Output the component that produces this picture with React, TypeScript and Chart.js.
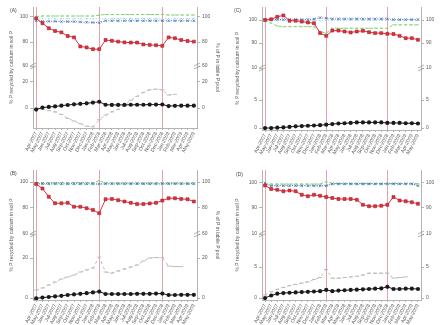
import React, { useEffect, useRef } from "react";
import { Chart, registerables } from "chart.js";
Chart.register(...registerables);

// ---------- data ----------
const categories = [
  "Apr-2007", "May-2007", "Jun-2007", "Jul-2007", "Aug-2007", "Sep-2007", "Oct-2007", "Nov-2007", "Dec-2007",
  "Jan-2008", "Feb-2008", "Mar-2008", "Apr-2008", "May-2008", "Jun-2008", "Jul-2008", "Aug-2008", "Sep-2008",
  "Oct-2008", "Nov-2008", "Dec-2008", "Jan-2009", "Feb-2009", "Mar-2009", "Apr-2009", "May-2009",
];
const sectionLines = [0, 10, 20];

const ticksAB = [0, 20, 60, 80, 100];
const ticksCD = [0, 5, 10, 90, 100];

// Panel A
const aRed = [98.9, 95, 91, 88.8, 87.7, 84.8, 83.7, 76.3, 75.5, 74, 74, 81.6, 81, 80.3, 79.7, 79.5, 79.5, 78, 77.6, 77.3, 76.8, 83.7, 83, 81.6, 80.8, 80.3];
const aBlue = [97, 96.5, 96.5, 96.5, 96.3, 96.3, 96.3, 96, 95.8, 95.6, 95.5, 97, 97, 97, 97, 97, 97, 97, 97, 97, 97, 97, 97, 97, 97, 97];
const aGreen = [100.5, 100.8, 100.8, 100.8, 100.8, 100.8, 100.8, 100.8, 100.8, 100.8, 101.5, 102, 102, 102, 102, 102, 102, 102, 102, 102, 102, 101.6, 101.6, 101.6, 101.6, 101.6];
const aCyan = [98.6, 98.6, 98.6, 98.6, 98.6, 98.6, 98.6, 98.6, 98.6, 98.6, 98.6, 98.8, 98.8, 98.8, 98.8, 98.8, 98.8, 98.8, 98.8, 98.8, 98.8, 98.8, 98.8, 98.8, 98.8, 98.8];
const aBlack = [-1.2, 0.3, 0.8, 1.2, 1.8, 2.3, 2.8, 3.2, 3.6, 4.2, 4.8, 2.5, 2.4, 2.4, 2.4, 2.5, 2.5, 2.5, 2.6, 2.6, 2.7, 1.5, 1.7, 1.8, 1.8, 1.8];
const aGray = [0, -1, -2, -3, -5, -8, -10, -12, -14, -14.5, -9, -5.5, -3, -1, 2, 6, 9, 12, 14, 14.5, 14, 10, 10.5, null, null, null];

// Panel B
const bRed = [98.5, 95, 88.7, 83.6, 83.6, 84, 81, 81, 79.8, 78.5, 76, 86.7, 87, 86, 85, 84, 83, 83, 83.5, 84, 85.7, 87.5, 87.5, 87, 86.7, 85];
const bBlue = [99, 98.7, 98.7, 98.7, 98.7, 98.7, 98.7, 98.7, 98.7, 98.7, 98.5, 98.7, 98.7, 98.7, 98.7, 98.7, 98.7, 98.7, 98.7, 98.7, 98.7, 98.7, 98.7, 98.7, 98.7, 98.7];
const bGreen = [99.5, 99.5, 99.5, 99.5, 99.5, 99.5, 99.5, 99.5, 99.5, 99.5, 101, 99.3, 99.3, 99.3, 99.3, 99.3, 99.3, 99.3, 99.3, 99.3, 99.3, 99.3, 99.3, 99.3, 99.3, 99.3];
const bCyan = [98, 98, 98, 98, 98, 98, 98, 98, 98, 98, 98, 98.2, 98.2, 98.2, 98.2, 98.2, 98.2, 98.2, 98.2, 98.2, 98.2, 98.2, 98.2, 98.2, 98.2, 98.2];
const bBlack = [-0.2, 0.2, 0.5, 0.8, 1.1, 1.5, 1.8, 2.1, 2.4, 2.8, 3.2, 2, 2, 2, 2, 2, 2.1, 2.1, 2.1, 2.2, 2.2, 1.5, 1.5, 1.6, 1.6, 1.6];
const bGray = [4, 5, 6.5, 8, 9.5, 10.5, 11.5, 13, 14, 15, 21.5, 13, 12.5, 13.5, 14.5, 15.5, 16.5, 18.5, 20, 20.7, 20.5, 16, 15.7, 15.7, null, null];

// Panel C
const cRed = [100, 100.3, 101.4, 102, 99.7, 99.7, 99.3, 98.9, 98.6, 94.3, 93.1, 95.4, 95.4, 95, 94.6, 95, 95.3, 94.7, 94.3, 94.3, 94, 93.9, 93.1, 92.1, 92.1, 91.4];
const cBlue = [100.2, 100.2, 100.2, 100.2, 100.2, 100.2, 100.2, 100.2, 100.4, 101, 100.8, 100.5, 100.5, 100.5, 100.5, 100.5, 100.5, 100.5, 100.5, 100.5, 100.5, 100.2, 100.2, 100.2, 100.2, 100.2];
const cGreen = [100, 98.6, 97.4, 97.1, 97.1, 97.1, 97.1, 97.1, 97.1, 95, 94.3, 96.4, 96.4, 96.4, 96.4, 96.4, 96.4, 96.4, 96.4, 96.4, 96.4, 97.9, 97.9, 97.9, 97.9, 97.9];
const cCyan = [99.8, 99.8, 99.8, 99.8, 99.8, 99.8, 99.8, 99.8, 99.8, 99.8, 99.8, 99.9, 99.9, 99.9, 99.9, 99.9, 99.9, 99.9, 99.9, 99.9, 99.9, 99.9, 99.9, 99.9, 99.9, 99.9];
const cBlack = [0, 0, 0.05, 0.1, 0.2, 0.3, 0.35, 0.4, 0.45, 0.5, 0.6, 0.7, 0.8, 0.85, 0.9, 1, 1, 1, 1, 1, 0.9, 0.9, 0.9, 0.85, 0.85, 0.8];

// Panel D
const dRed = [99, 97.6, 97.3, 96.7, 97, 96.7, 95.3, 94.7, 95.3, 94.9, 94.4, 94, 93.6, 93.6, 93.6, 93.3, 91.3, 90.7, 90.7, 90.9, 91.3, 94.4, 93, 92.7, 92.3, 91.7];
const dBlue = [100, 98.9, 98.9, 98.9, 98.9, 98.9, 98.9, 98.9, 98.9, 98.9, 98.9, 99.7, 99.7, 99.7, 99.7, 99.7, 99.7, 99.7, 99.7, 99.7, 99.7, 99.7, 99.7, 99.7, 99.7, 98.9];
const dGreen = [99.6, 99.6, 99.6, 99.6, 99.6, 99.6, 99.6, 99.6, 99.6, 99.6, 100.5, 99.8, 99.8, 99.8, 99.8, 99.8, 99.8, 99.8, 99.8, 99.8, 99.8, 99.8, 99.8, 99.8, 99.8, 99.8];
const dCyan = [99, 99, 99, 99, 99, 99, 99, 99, 99, 99, 99, 99.3, 99.3, 99.3, 99.3, 99.3, 99.3, 99.3, 99.3, 99.3, 99.3, 99.3, 99.3, 99.3, 99.3, 99.3];
const dBlack = [0, 0.4, 0.7, 0.8, 0.85, 0.9, 0.95, 1, 1.05, 1.1, 1.3, 1.1, 1.2, 1.25, 1.3, 1.35, 1.4, 1.45, 1.5, 1.55, 1.8, 1.45, 1.45, 1.5, 1.5, 1.45];
const dGray = [0.5, 1, 1.4, 1.7, 2, 2.2, 2.4, 2.6, 3, 3.3, 4.6, 3.2, 3.2, 3.3, 3.4, 3.5, 3.7, 4, 4, 4, 4, 3.2, 3.3, 3.4, null, null];

const leftTitle = "% P recycled by calcium in soil P";
const rightTitle = "% of P in labile P pool";

// ---------- helpers ----------
type Series = (number | null)[];
function makeMap(vals: number[], pos: number[]) {
  return (v: number | null) => {
    if (v === null || v === undefined) return null;
    let i = 0;
    if (v <= vals[0]) i = 0;
    else if (v >= vals[vals.length - 1]) i = vals.length - 2;
    else {
      while (v > vals[i + 1]) i++;
    }
    const t = (v - vals[i]) / (vals[i + 1] - vals[i]);
    return pos[i] + t * (pos[i + 1] - pos[i]);
  };
}

type Panel = {
  label: string;
  left: number; top: number; w: number; h: number;
  padLeft: number; padTop: number; leftW: number; rightW: number; bottomH: number;
  ticks: number[]; tickPos: number[]; min: number; max: number;
  red: Series; blue: Series; green: Series; cyan: Series; black: Series; gray?: Series;
  showRightTitle: boolean;
  labelX: number; labelY: number;
};

const panels: Panel[] = [
  {
    label: "(A)", left: 0, top: 0, w: 221, h: 160,
    padLeft: 8, padTop: 7, leftW: 25, rightW: 24, bottomH: 32,
    ticks: ticksAB, tickPos: [0, 26, 42, 66, 91], min: -20, max: 101,
    red: aRed, blue: aBlue, green: aGreen, cyan: aCyan, black: aBlack, gray: aGray,
    showRightTitle: true, labelX: 10, labelY: 11,
  },
  {
    label: "(C)", left: 221, top: 0, w: 222, h: 160,
    padLeft: 13, padTop: 7, leftW: 28, rightW: 22, bottomH: 30,
    ticks: ticksCD, tickPos: [0, 28, 60, 85, 108], min: -2, max: 121,
    red: cRed, blue: cBlue, green: cGreen, cyan: cCyan, black: cBlack,
    showRightTitle: false, labelX: 13, labelY: 11,
  },
  {
    label: "(B)", left: 0, top: 160, w: 221, h: 165,
    padLeft: 8, padTop: 10, leftW: 25, rightW: 24, bottomH: 25,
    ticks: ticksAB, tickPos: [0, 40, 64, 90, 116], min: -2, max: 128,
    red: bRed, blue: bBlue, green: bGreen, cyan: bCyan, black: bBlack, gray: bGray,
    showRightTitle: true, labelX: 10, labelY: 14,
  },
  {
    label: "(D)", left: 221, top: 160, w: 222, h: 165,
    padLeft: 13, padTop: 10, leftW: 28, rightW: 22, bottomH: 25,
    ticks: ticksCD, tickPos: [0, 31, 64, 90, 115], min: -2, max: 128,
    red: dRed, blue: dBlue, green: dGreen, cyan: dCyan, black: dBlack, gray: dGray,
    showRightTitle: false, labelX: 15, labelY: 15,
  },
];

const FONT = "'Liberation Sans', Arial, sans-serif";
const AXIS = "#b4b4b4";
const TXT = "#5a5a5a";

function PanelChart({ p }: { p: Panel }) {
  const ref = useRef<HTMLCanvasElement | null>(null);
  useEffect(() => {
    if (!ref.current) return;
    const map = makeMap(p.ticks, p.tickPos);
    const tickLabels = p.ticks.map(String);
    const yAxis = (pos: "left" | "right", title: string, showTitle: boolean, width: number) => ({
      type: "linear" as const,
      position: pos,
      min: p.min,
      max: p.max,
      afterBuildTicks: (s: any) => {
        s.ticks = p.tickPos.map((v) => ({ value: v }));
      },
      afterFit: (s: any) => {
        s.width = width;
      },
      ticks: {
        callback: (_v: any, i: number) => tickLabels[i],
        font: { size: 5, family: FONT },
        color: TXT,
        padding: 2,
      },
      grid: { drawOnChartArea: false, drawTicks: true, tickLength: 3, color: AXIS },
      border: { color: AXIS, width: 1 },
      title: {
        display: showTitle,
        text: title,
        font: { size: 5, family: FONT },
        color: TXT,
        padding: { top: 1, bottom: 1 },
      },
    });

    const plugin = {
      id: "deco",
      beforeDatasetsDraw(chart: any) {
        const { ctx, chartArea, scales } = chart;
        ctx.save();
        ctx.strokeStyle = "rgba(214,96,108,0.6)";
        ctx.lineWidth = 1;
        sectionLines.forEach((idx) => {
          const x = Math.round(scales.x.getPixelForValue(idx)) + 0.5;
          ctx.beginPath();
          ctx.moveTo(x, chartArea.top);
          ctx.lineTo(x, chartArea.bottom);
          ctx.stroke();
        });
        ctx.restore();
      },
      afterDraw(chart: any) {
        const { ctx, chartArea, scales } = chart;
        ctx.save();
        const yb = scales.y.getPixelForValue(p.tickPos[2]);
        ctx.strokeStyle = "#999";
        ctx.lineWidth = 0.8;
        [chartArea.left, chartArea.right].forEach((x) => {
          for (const dy of [-1.5, 1.5]) {
            ctx.beginPath();
            ctx.moveTo(x - 3, yb + dy + 1.5);
            ctx.lineTo(x + 3, yb + dy - 1.5);
            ctx.stroke();
          }
        });
        ctx.fillStyle = "#444";
        ctx.font = `5px ${FONT}`;
        ctx.textBaseline = "middle";
        ctx.fillText(p.label, p.labelX, p.labelY);
        ctx.restore();
      },
    };

    const datasets: any[] = [
      {
        label: "red", data: p.red.map(map), yAxisID: "y",
        borderColor: "#e0323e", backgroundColor: "#e0323e", borderWidth: 1,
        pointStyle: "rect", pointRadius: 2.1, pointBorderColor: "#a81e28", pointBorderWidth: 0.6,
      },
      {
        label: "black", data: p.black.map(map), yAxisID: "y",
        borderColor: "#1a1a1a", backgroundColor: "#1a1a1a", borderWidth: 1,
        pointStyle: "circle", pointRadius: 2.1, pointBorderWidth: 0,
      },
      {
        label: "blue", data: p.blue.map(map), yAxisID: "y",
        borderColor: "#4a6db3", backgroundColor: "#4a6db3", borderWidth: 1, borderDash: [1, 1.5],
        pointStyle: "crossRot", pointRadius: 1.8, pointBorderWidth: 0.8,
      },
      {
        label: "cyan", data: p.cyan.map(map), yAxisID: "y",
        borderColor: "#8fdbe6", backgroundColor: "#8fdbe6", borderWidth: 1, borderDash: [1, 2],
        pointStyle: "circle", pointRadius: 0.8, pointBorderWidth: 0,
      },
      {
        label: "green", data: p.green.map(map), yAxisID: "y2",
        borderColor: "#86cf72", backgroundColor: "#86cf72", borderWidth: 1, borderDash: [3, 2],
        pointStyle: "line", pointRadius: 1.2, pointBorderWidth: 0.8,
      },
    ];
    if (p.gray) {
      datasets.push({
        label: "gray", data: p.gray.map(map), yAxisID: "y2",
        borderColor: "#bcbcbc", backgroundColor: "#bcbcbc", borderWidth: 1, borderDash: [3, 3],
        pointStyle: "line", pointRadius: 2, pointBorderWidth: 1, spanGaps: false,
      });
    }

    const chart = new Chart(ref.current, {
      type: "line",
      data: { labels: categories, datasets },
      options: {
        responsive: false,
        animation: false,
        devicePixelRatio: 1,
        layout: { padding: { left: p.padLeft, top: p.padTop, right: 0, bottom: 0 } },
        plugins: { legend: { display: false }, tooltip: { enabled: false } },
        scales: {
          x: {
            type: "category",
            offset: true,
            afterFit: (s: any) => {
              s.height = p.bottomH;
            },
            ticks: {
              autoSkip: false,
              minRotation: 62,
              maxRotation: 62,
              font: { size: 5, family: FONT },
              color: TXT,
              padding: 1,
            },
            grid: { drawOnChartArea: false, drawTicks: true, tickLength: 2, color: AXIS },
            border: { color: AXIS, width: 1 },
          },
          y: yAxis("left", leftTitle, true, p.leftW),
          y2: yAxis("right", rightTitle, p.showRightTitle, p.rightW),
        },
      } as any,
      plugins: [plugin],
    });
    return () => chart.destroy();
  }, [p]);
  return (
    <canvas
      ref={ref}
      width={p.w}
      height={p.h}
      style={{ position: "absolute", left: p.left, top: p.top, width: p.w, height: p.h }}
    />
  );
}

export default function App() {
  return (
    <div style={{ position: "fixed", left: 0, top: 0, width: 443, height: 325, background: "#fff" }}>
      {panels.map((p) => (
        <PanelChart key={p.label} p={p} />
      ))}
    </div>
  );
}
